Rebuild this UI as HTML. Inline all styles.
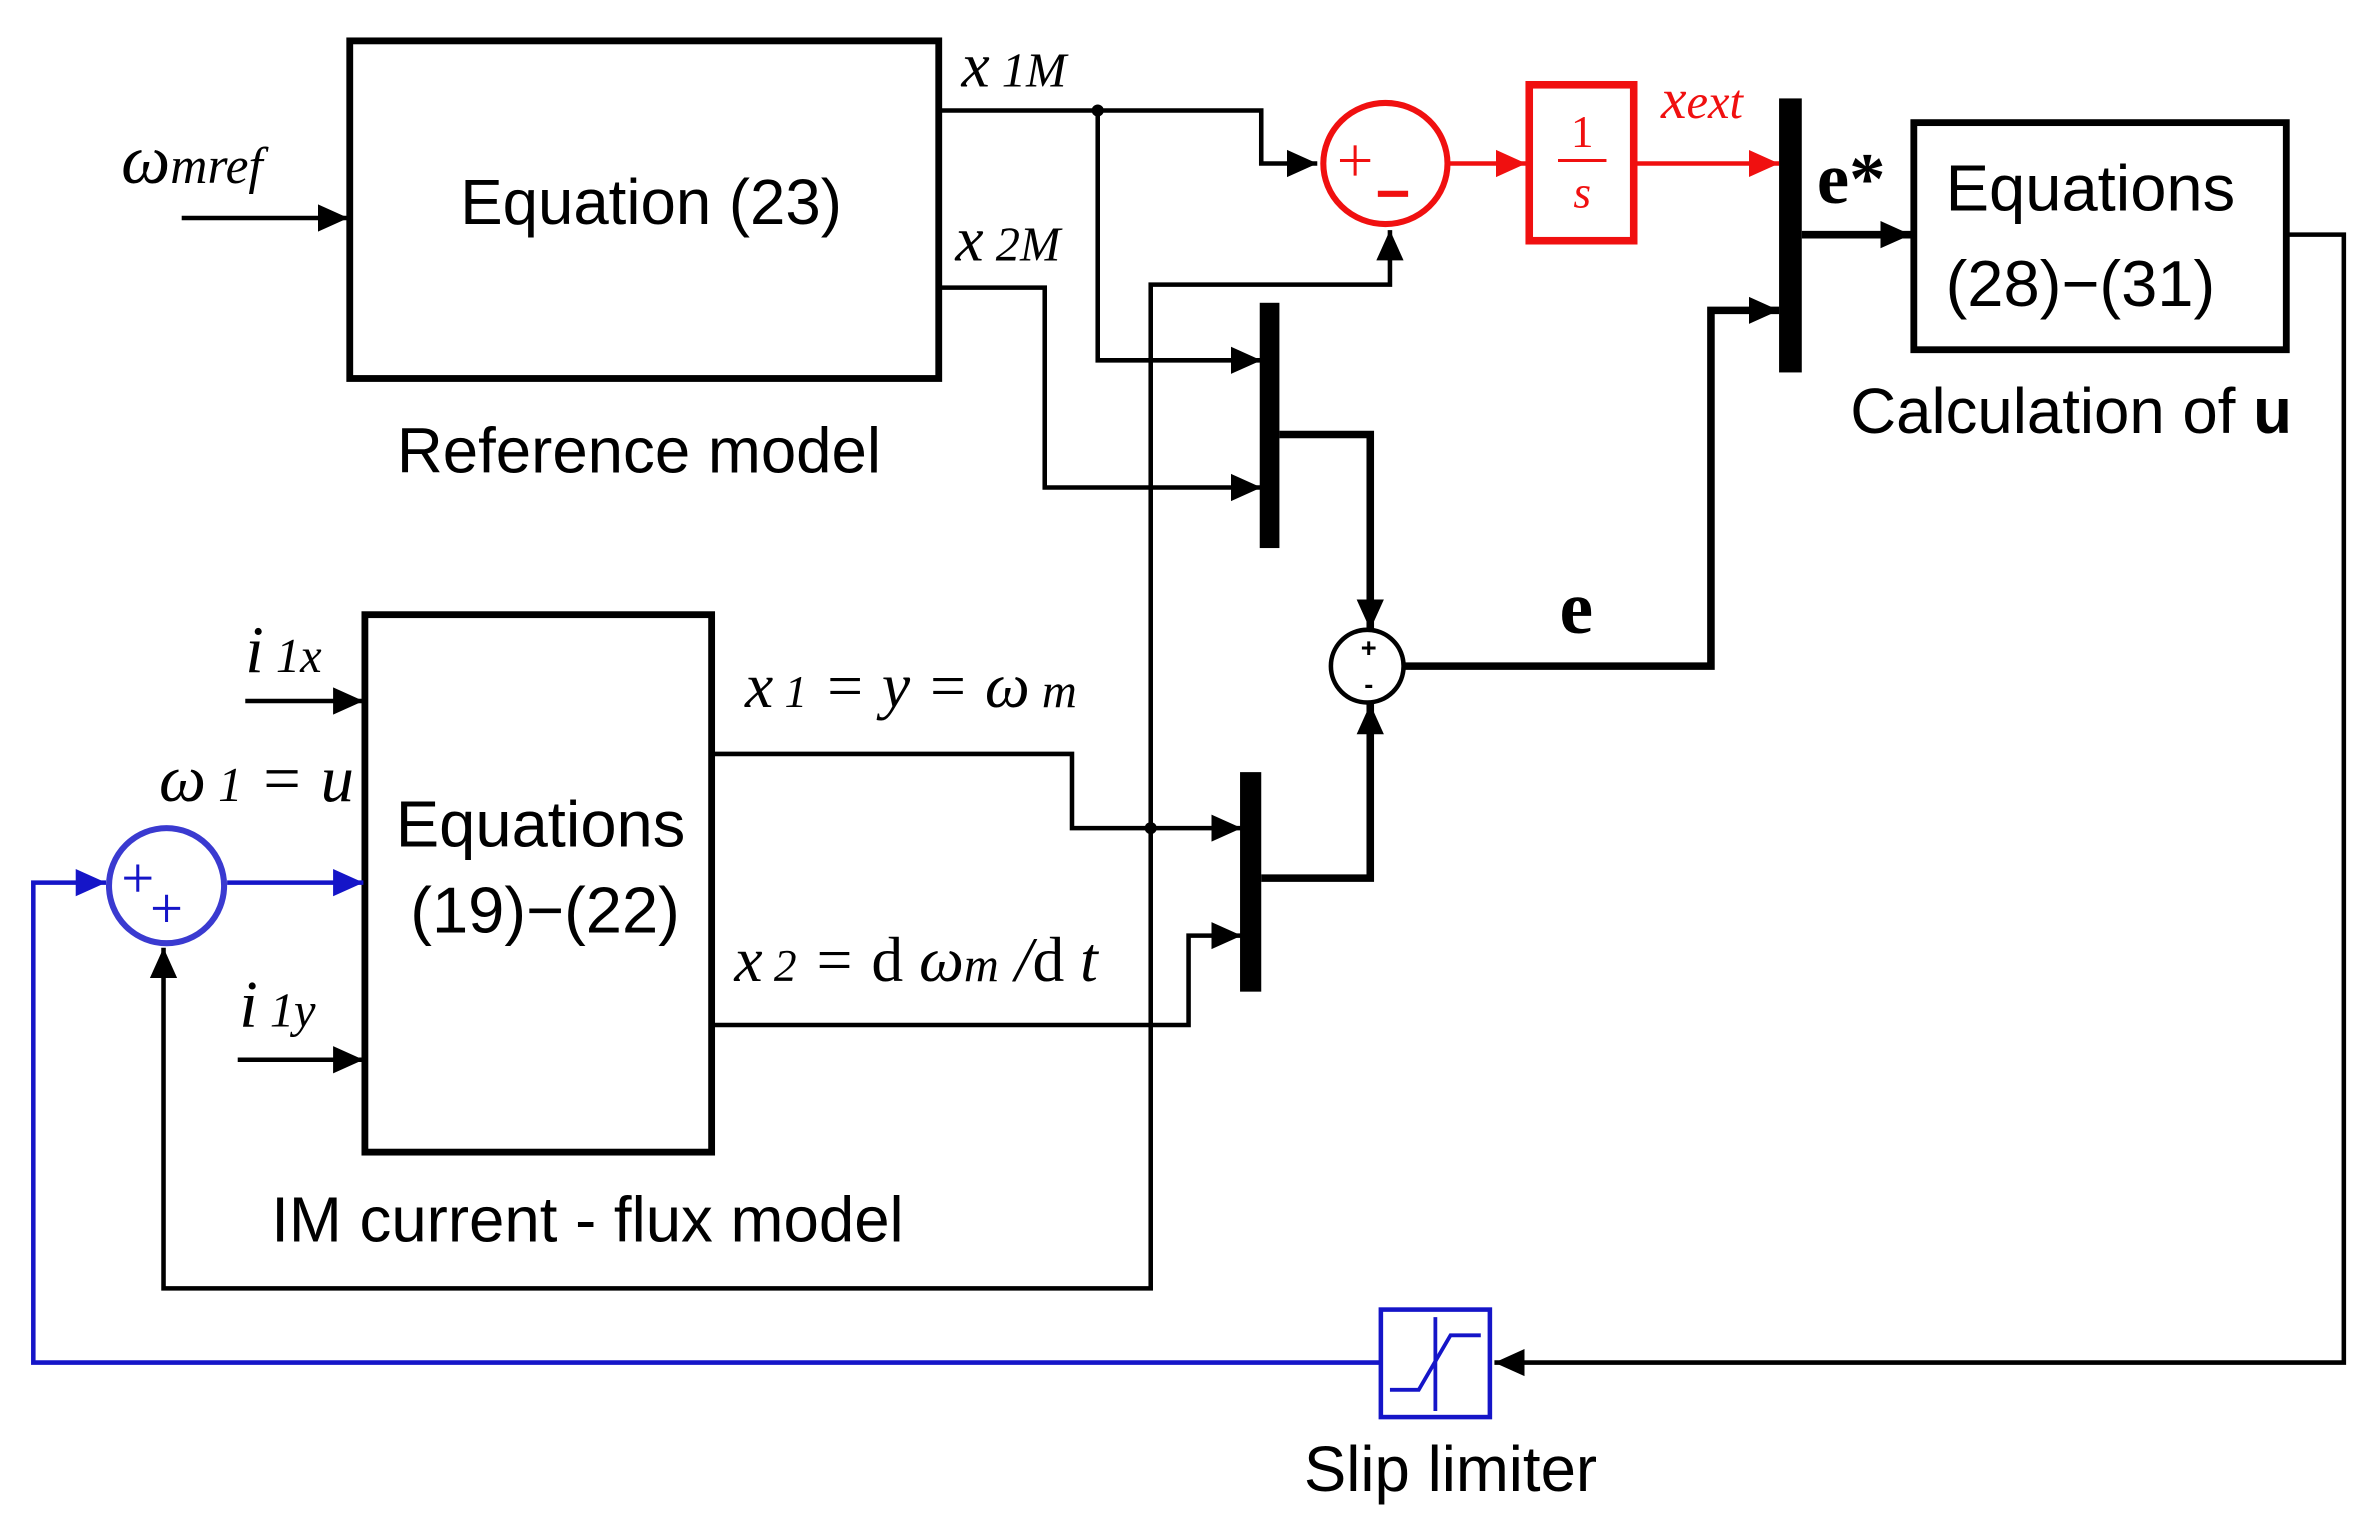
<!DOCTYPE html>
<html><head><meta charset="utf-8"><style>
html,body{margin:0;padding:0;background:#fff;}
svg{display:block;}
.s{font-family:"Liberation Sans",sans-serif;}
.m{font-family:"Liberation Serif",serif;font-style:italic;}
</style></head><body>
<svg width="2362" height="1517" viewBox="0 0 1560 1002" preserveAspectRatio="none" xmlns="http://www.w3.org/2000/svg">
<defs>
<marker id="a" markerUnits="userSpaceOnUse" markerWidth="22" markerHeight="20" refX="20" refY="10" orient="auto"><path d="M0,1 L20,10 L0,19 Z" fill="#000"/></marker>
<marker id="r" markerUnits="userSpaceOnUse" markerWidth="22" markerHeight="20" refX="20" refY="10" orient="auto"><path d="M0,1 L20,10 L0,19 Z" fill="#f01010"/></marker>
<marker id="b" markerUnits="userSpaceOnUse" markerWidth="22" markerHeight="20" refX="20" refY="10" orient="auto"><path d="M0,1 L20,10 L0,19 Z" fill="#1515c8"/></marker>
</defs>
<g fill="none" stroke="#000" stroke-width="3">
<rect x="231" y="27" width="389" height="223" stroke-width="4.5"/>
<line x1="120" y1="144" x2="230" y2="144" marker-end="url(#a)"/>
<polyline points="622,73 833,73 833,108 870,108" marker-end="url(#a)"/>
<polyline points="725,73 725,238 833,238" marker-end="url(#a)"/>
<polyline points="620,190 690,190 690,322 833,322" marker-end="url(#a)"/>
<polyline points="845,287 905,287 905,416" stroke-width="5" marker-end="url(#a)"/>
<polyline points="760,547 760,188 918,188 918,152" marker-end="url(#a)"/>
<polyline points="760,547 760,851 108,851 108,626" marker-end="url(#a)"/>
<polyline points="1190,155 1262,155" stroke-width="5" marker-end="url(#a)"/>
<rect x="1264" y="81" width="246" height="150" stroke-width="4.5"/>
<polyline points="1511,155 1548,155 1548,900 987,900" marker-end="url(#a)"/>
<polyline points="928,440 1130,440 1130,205 1175,205" stroke-width="5" marker-end="url(#a)"/>
<circle cx="903" cy="440" r="24" stroke-width="3"/>
<polyline points="833,580 905,580 905,465" stroke-width="5" marker-end="url(#a)"/>
<rect x="241" y="406" width="229" height="355" stroke-width="4.5"/>
<line x1="162" y1="463" x2="240" y2="463" marker-end="url(#a)"/>
<line x1="157" y1="700" x2="240" y2="700" marker-end="url(#a)"/>
<polyline points="470,498 708,498 708,547 820,547" marker-end="url(#a)"/>
<polyline points="470,677 785,677 785,618 820,618" marker-end="url(#a)"/>
</g>
<circle cx="725" cy="73" r="4" fill="#000"/>
<circle cx="760" cy="547" r="4" fill="#000"/>
<rect x="832" y="200" width="13" height="162" fill="#000"/>
<rect x="1175" y="65" width="15" height="181" fill="#000"/>
<rect x="819" y="510" width="14" height="145" fill="#000"/>
<g stroke="#f01010" fill="none" stroke-width="3">
<ellipse cx="915" cy="108" rx="41" ry="40" stroke-width="4"/>
<line x1="957" y1="108" x2="1008" y2="108" marker-end="url(#r)"/>
<rect x="1010" y="56" width="69" height="103" stroke-width="5"/>
<line x1="1080" y1="108" x2="1175" y2="108" marker-end="url(#r)"/>
<line x1="1029" y1="106" x2="1061" y2="106" stroke-width="2"/>
<line x1="885" y1="106" x2="905" y2="106" stroke-width="2"/>
<line x1="895" y1="96" x2="895" y2="116" stroke-width="2"/>
<line x1="910" y1="128" x2="930" y2="128" stroke-width="4"/>
</g>
<text x="1045" y="97" font-family="Liberation Serif,serif" font-size="30" fill="#f01010" text-anchor="middle">1</text>
<text x="1045" y="137" class="m" font-size="30" fill="#f01010" text-anchor="middle">s</text>
<text x="1097" y="78" class="m" font-size="38" fill="#f01010">x<tspan font-size="32">ext</tspan></text>
<g stroke="#1515c8" fill="none" stroke-width="3">
<ellipse cx="110" cy="585" rx="38" ry="38" stroke="#3a3ad0" stroke-width="4"/>
<line x1="150" y1="583" x2="240" y2="583" marker-end="url(#b)"/>
<polyline points="912,900 22,900 22,583 70,583" marker-end="url(#b)"/>
<rect x="912" y="865" width="72" height="71" stroke-width="3"/>
<polyline points="918,918 937,918 958,882 978,882" stroke-width="2.5"/>
<line x1="948" y1="870" x2="948" y2="932" stroke-width="2.5"/>
<line x1="82" y1="580" x2="100" y2="580" stroke-width="2"/>
<line x1="91" y1="571" x2="91" y2="589" stroke-width="2"/>
<line x1="101" y1="600" x2="119" y2="600" stroke-width="2"/>
<line x1="110" y1="591" x2="110" y2="609" stroke-width="2"/>
</g>
<text x="904" y="434" font-family="Liberation Sans,sans-serif" font-size="18" font-weight="bold" text-anchor="middle">+</text>
<text x="904" y="458" font-family="Liberation Sans,sans-serif" font-size="18" font-weight="bold" text-anchor="middle">-</text>
<text x="430" y="148" class="s" font-size="42" text-anchor="middle">Equation (23)</text>
<text x="422" y="312" class="s" font-size="42" text-anchor="middle">Reference model</text>
<text x="80" y="121" class="m" font-size="46">ω<tspan font-size="34">mref</tspan></text>
<text x="635" y="57" class="m" font-size="42">x<tspan font-size="32"> 1M</tspan></text>
<text x="631" y="172" class="m" font-size="42">x<tspan font-size="32"> 2M</tspan></text>
<text x="1200" y="134" font-family="Liberation Serif,serif" font-weight="bold" font-size="48">e*</text>
<text x="1285" y="139" class="s" font-size="43">Equations</text>
<text x="1285" y="202" class="s" font-size="43">(28)−(31)</text>
<text x="1222" y="286" class="s" font-size="42">Calculation of <tspan font-weight="bold">u</tspan></text>
<text x="1030" y="418" font-family="Liberation Serif,serif" font-weight="bold" font-size="50">e</text>
<text x="162" y="444" class="m" font-size="44">i<tspan font-size="32"> 1x</tspan></text>
<text x="105" y="529" class="m" font-size="44">ω<tspan font-size="32"> 1</tspan> = u</text>
<text x="158" y="678" class="m" font-size="44">i<tspan font-size="32"> 1y</tspan></text>
<text x="357" y="559" class="s" font-size="43" text-anchor="middle">Equations</text>
<text x="360" y="616" class="s" font-size="43" text-anchor="middle">(19)−(22)</text>
<text x="492" y="467" class="m" font-size="42">x<tspan font-size="30"> 1</tspan> = y = ω<tspan font-size="32"> m</tspan></text>
<text x="485" y="648" class="m" font-size="42">x<tspan font-size="30"> 2</tspan> = <tspan font-style="normal">d</tspan> ω<tspan font-size="32">m</tspan> /<tspan font-style="normal">d</tspan> t</text>
<text x="388" y="820" class="s" font-size="42" text-anchor="middle">IM current - flux model</text>
<text x="958" y="985" class="s" font-size="42" text-anchor="middle">Slip limiter</text>
</svg>
</body></html>
